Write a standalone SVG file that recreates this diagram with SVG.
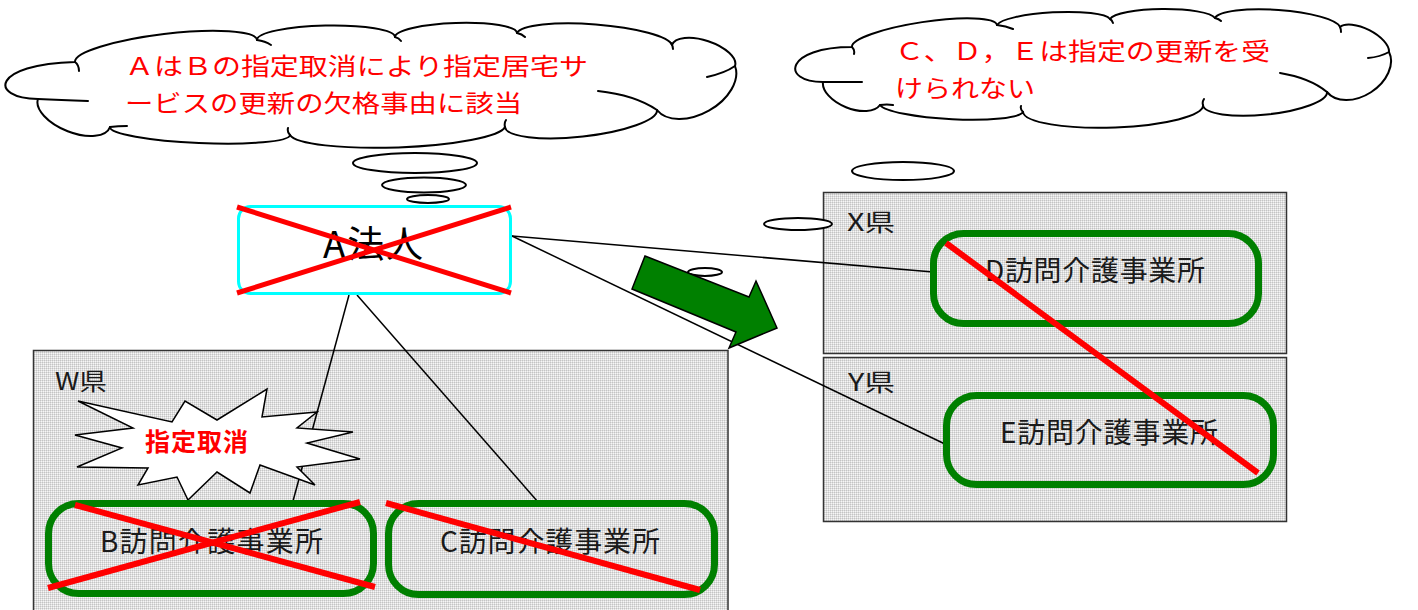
<svg xmlns="http://www.w3.org/2000/svg" width="1418" height="610" viewBox="0 0 1418 610">
<defs>
<pattern id="mesh" width="2" height="2" patternUnits="userSpaceOnUse">
<rect width="2" height="2" fill="#f6f6f6"/>
<rect width="1" height="1" fill="#c4c4c4"/>
<rect x="1" width="1" height="1" fill="#dedede"/>
<rect y="1" width="1" height="1" fill="#dedede"/>
</pattern>
</defs>
<style>
.region{fill:url(#mesh);stroke:#333;stroke-width:1.5}
.cloud{fill:#fff;stroke:#000;stroke-width:2;stroke-linejoin:round}
.hook{fill:none;stroke:#000;stroke-width:2;stroke-linecap:round}
.bub{fill:#fff;stroke:#000;stroke-width:2}
.ctext{font-family:"Noto Sans CJK JP","Noto Sans",sans-serif;font-size:24px;fill:#ff0000}
.ntext{font-family:"Noto Sans CJK JP","Noto Sans",sans-serif;font-size:28px;fill:#1a1a1a}
.ltext{font-family:"Noto Sans CJK JP","Noto Sans",sans-serif;font-size:24px;fill:#1a1a1a}
.office{fill:none;stroke:#008000;stroke-width:7}
.cross{stroke:#ff0000;stroke-width:6;stroke-linecap:butt}
.conn{stroke:#000;stroke-width:1.5;fill:none}
</style>

<g id="region-W"><rect class="region" x="33.5" y="350.5" width="694.5" height="270"/><text class="ltext" x="55" y="390" textLength="52" lengthAdjust="spacingAndGlyphs">W県</text></g>
<g id="region-X"><rect class="region" x="823.5" y="192.5" width="463" height="161"/><text class="ltext" x="847" y="231" textLength="48" lengthAdjust="spacingAndGlyphs">X県</text></g>
<g id="region-Y"><rect class="region" x="823.5" y="357.5" width="463" height="164"/><text class="ltext" x="848" y="391" textLength="47" lengthAdjust="spacingAndGlyphs">Y県</text></g>

<g id="cloud1">
<path class="cloud" d="M75,62 A91 17 -6.9 0 1 257 40 A69 13 -1.2 0 1 395 37 A61 12 -1.9 0 1 517 33 A78 16 4.4 0 1 672 45 A33 15 18.4 0 1 735 66 A45 29 150.6 0 1 657 110 A76 18 173.6 0 1 505 127 A108 18 177.9 0 1 290 135 A90 12 182.5 0 1 110 127 A36 18 202 0 1 38 99 C-12,98 -8,64 75,62 Z"/>
<path class="hook" d="M75,62 Q79,65 79,71 M257,40 Q265,41 271,45 M395,37 Q399,38 401,41 M517,33 Q522,34 525,37 M671,43 Q673,46 673,49 M735,66 Q725,73 707,77 M657,110 Q635,95 598,91 M505,127 Q504,123 506,120 M290,135 Q287,132 288,128 M110,127 Q118,126 127,126 M38,99 Q60,100 88,101"/>
<ellipse class="bub" cx="415" cy="163" rx="62" ry="10"/>
<ellipse class="bub" cx="424" cy="185" rx="42" ry="7.5"/>
<ellipse class="bub" cx="428" cy="199" rx="21" ry="4"/>
<text class="ctext" x="125" y="75" textLength="463" lengthAdjust="spacingAndGlyphs">ＡはＢの指定取消により指定居宅サ</text>
<text class="ctext" x="125" y="112" textLength="397" lengthAdjust="spacingAndGlyphs">ービスの更新の欠格事由に該当</text>
</g>

<g id="cloud2">
<path class="cloud" d="M852,47 A73 14 -8.6 0 1 997 25 A57 11 -3 0 1 1110 19 A53 11 -0.5 0 1 1215 18 A63 14 4.1 0 1 1340 27 A28 13 27 0 1 1389 52 A37 26 147 0 1 1327 92 A62 16 174 0 1 1203 105 A90 19 178 0 1 1023 112 A72 12 183 0 1 880 105 A31 17 202 0 1 823 82 C780,82 785,47 852,47 Z"/>
<path class="hook" d="M852,47 Q855,50 854,54 M997,25 Q1006,26 1013,29 M1110,19 Q1112,20 1113,23 M1215,18 Q1219,19 1221,21 M1340,27 Q1341,29 1341,32 M1389,52 Q1380,57 1368,58 M1327,92 Q1310,78 1280,73 M1203,105 Q1202,102 1204,99 M1023,112 Q1020,109 1021,106 M880,105 Q887,104 893,105 M823,82 Q845,82 862,82"/>
<ellipse class="bub" cx="903" cy="171" rx="51" ry="9"/>
<ellipse class="bub" cx="798" cy="224" rx="34" ry="6"/>
<ellipse class="bub" cx="705" cy="272" rx="17" ry="4"/>
<text class="ctext" x="895" y="60" textLength="375" lengthAdjust="spacingAndGlyphs">Ｃ、Ｄ，Ｅは指定の更新を受</text>
<text class="ctext" x="895" y="97" textLength="140" lengthAdjust="spacingAndGlyphs">けられない</text>
</g>

<g id="connectors">
<line class="conn" x1="349" y1="295" x2="293" y2="501"/>
<line class="conn" x1="357" y1="295" x2="538" y2="502"/>
<line class="conn" x1="512" y1="236" x2="933" y2="272"/>
<line class="conn" x1="512" y1="236" x2="947" y2="445"/>
</g>

<g id="arrow">
<polygon points="645,256 749,297 756,281 777,328 729,348 736,332 632,289" fill="#008000" stroke="#000" stroke-width="1.5" stroke-linejoin="miter"/>
</g>

<g id="node-A">
<rect x="238.5" y="206.5" width="272" height="87" rx="12" fill="#fff" stroke="#00ffff" stroke-width="3"/>
<text class="ntext" x="323" y="258" style="font-size:37px;fill:#000" textLength="100">A法人</text>
<line class="cross" x1="237" y1="207" x2="511" y2="293" style="stroke-width:5"/>
<line class="cross" x1="237" y1="293" x2="511" y2="207" style="stroke-width:5"/>
</g>

<g id="burst">
<polygon points="78,401 172,422 185,401 217,420 267,389 262,417 317,412 297,428 353,432 307,443 360,459 297,467 315,485 260,465 250,493 217,472 188,500 177,477 138,485 148,468 77,467 122,448 75,435 133,428" fill="#fff" stroke="#000" stroke-width="1.5" stroke-linejoin="miter"/>
<text x="145" y="451" textLength="103" style="font-family:'Noto Sans CJK JP','Noto Sans',sans-serif;font-size:25px;font-weight:bold;fill:#ff0000">指定取消</text>
</g>

<g id="node-B">
<rect class="office" x="48.5" y="503.5" width="325" height="90" rx="30"/>
<text class="ntext" x="100" y="552" textLength="223">B訪問介護事業所</text>
<line class="cross" x1="48" y1="588" x2="360" y2="502"/>
<line class="cross" x1="75" y1="505" x2="375" y2="587"/>
</g>

<g id="node-C">
<rect class="office" x="388.5" y="503.5" width="326" height="91" rx="30"/>
<text class="ntext" x="440" y="552" textLength="220">C訪問介護事業所</text>
<line class="cross" x1="386" y1="503" x2="700" y2="590"/>
</g>

<g id="node-D">
<rect class="office" x="933.5" y="233.5" width="325" height="90" rx="30"/>
<text class="ntext" x="985" y="281" textLength="220">D訪問介護事業所</text>
</g>

<g id="node-E">
<rect class="office" x="946.5" y="395.5" width="327" height="89" rx="30"/>
<text class="ntext" x="1000" y="443" textLength="218">E訪問介護事業所</text>
</g>

<line id="cross-DE" class="cross" x1="946" y1="243" x2="1258" y2="473"/>
</svg>
